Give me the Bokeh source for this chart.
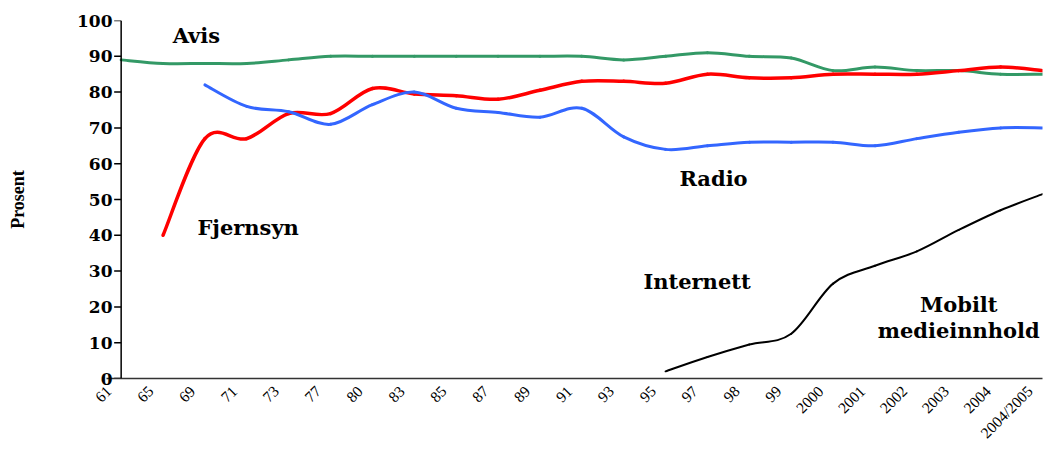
import math
from bokeh.plotting import figure
from bokeh.models import Range1d, FixedTicker, ColumnDataSource, LinearAxis, Span
from bokeh.core.properties import value
from bokeh.embed import file_html
from bokeh.resources import INLINE

# ---- data ----
labels = ["61", "65", "69", "71", "73", "77", "80", "83", "85", "87", "89", "91",
          "93", "95", "97", "98", "99", "2000", "2001", "2002", "2003", "2004", "2004/2005"]

avis = [89, 88, 88, 88, 89, 90, 90, 90, 90, 90, 90, 90,
        89, 90, 91, 90, 89.5, 86, 87, 86, 86, 85, 85]

fjernsyn = [None, 40, 67, 67, 74, 74, 81, 79.5, 79, 78, 80.5, 83,
            83, 82.5, 85, 84, 84, 85, 85, 85, 86, 87, 86]

radio = [None, None, 82, 76, 74.5, 71, 76.5, 80, 75.5, 74.3, 73, 75.5,
         67.5, 64, 65, 66, 66, 66, 65, 67, 68.8, 70, 70]

internett = [None, None, None, None, None, None, None, None, None, None, None, None,
             None, 2, 6, 9.5, 12.5, 26.5, 31.5, 35.5, 41.5, 47, 51.5]

series_names = ["Avis", "Fjernsyn", "Radio", "Internett"]
y_ticks = list(range(0, 101, 10))


def smooth_segments(ys):
    """Bezier segments (smoothed line, as in the source chart) through the data points."""
    pts = [(i, y) for i, y in enumerate(ys) if y is not None]
    d = dict(x0=[], y0=[], x1=[], y1=[], cx0=[], cy0=[], cx1=[], cy1=[])
    n = len(pts)
    for k in range(n - 1):
        p0 = pts[k - 1] if k > 0 else pts[k]
        p1 = pts[k]
        p2 = pts[k + 1]
        p3 = pts[k + 2] if k + 2 < n else pts[k + 1]
        d["x0"].append(p1[0]); d["y0"].append(p1[1])
        d["x1"].append(p2[0]); d["y1"].append(p2[1])
        d["cx0"].append(p1[0] + (p2[0] - p0[0]) / 6.0)
        d["cy0"].append(p1[1] + (p2[1] - p0[1]) / 6.0)
        d["cx1"].append(p2[0] - (p3[0] - p1[0]) / 6.0)
        d["cy1"].append(p2[1] - (p3[1] - p1[1]) / 6.0)
    return ColumnDataSource(d)


W, H = 1045, 450
BL, BR, BT = 106, 3, 20
LAB_SHIFT = 0.3    # rotated category labels end a little left of their category
X_START = -0.35
n = len(labels)
px_per_unit = (W - BL - BR) / (n - 1 - X_START)
tick_len = 7 / px_per_unit

p = figure(width=W, height=H,
           x_range=Range1d(X_START, n - 1), y_range=Range1d(0, 100),
           output_backend="svg", toolbar_location=None,
           min_border_left=BL, min_border_right=BR, min_border_top=BT, min_border_bottom=60)
p.outline_line_color = None
p.grid.visible = False
p.background_fill_color = "white"
p.border_fill_color = "white"
p.xaxis.visible = False

# value axis: line at the first category, tick marks to its left
p.add_layout(Span(location=0, dimension="height", line_color="black", line_width=1.5))
p.segment(x0=[-tick_len] * len(y_ticks), x1=[0] * len(y_ticks), y0=y_ticks, y1=y_ticks,
          line_color="black", line_width=1.5)

styles = [("#339966", 3.0), ("#FF0000", 3.5), ("#3366FF", 3.0), ("#000000", 2.0)]
for ys, (col, w) in zip([avis, fjernsyn, radio, internett], styles):
    src = smooth_segments(ys)
    p.bezier(x0="x0", y0="y0", x1="x1", y1="y1", cx0="cx0", cy0="cy0",
             cx1="cx1", cy1="cy1", source=src, line_color=col, line_width=w,
             line_cap="round")

ya = p.yaxis[0]
ya.ticker = FixedTicker(ticks=y_ticks)
ya.major_label_text_font = "DejaVu Serif"
ya.major_label_text_font_style = "bold"
ya.major_label_text_font_size = "17px"
ya.major_label_text_color = "black"
ya.major_tick_out = 0
ya.major_tick_in = 0
ya.major_tick_line_color = None
ya.major_label_standoff = -6
ya.minor_tick_line_color = None
ya.axis_line_color = None
ya.axis_label = "Prosent"
ya.axis_label_text_font = "Liberation Serif"
ya.axis_label_text_font_style = "bold"
ya.axis_label_text_font_size = "18px"
ya.axis_label_text_color = "black"
ya.axis_label_standoff = 46

# category axis (labels slightly shifted like the source)
p.extra_x_ranges = {"lab": Range1d(X_START + LAB_SHIFT, n - 1 + LAB_SHIFT)}
xa = LinearAxis(x_range_name="lab")
xa.ticker = FixedTicker(ticks=list(range(n)))
xa.major_label_overrides = {i: lab for i, lab in enumerate(labels)}
xa.major_label_orientation = math.pi / 4
xa.major_tick_line_color = None
xa.major_tick_out = 0
xa.major_tick_in = 0
xa.minor_tick_line_color = None
xa.major_label_text_font = "Liberation Serif"
xa.major_label_text_font_size = "15.5px"
xa.major_label_text_color = "black"
xa.major_label_standoff = 10
xa.axis_line_color = "#333333"
xa.axis_line_width = 1.5
p.add_layout(xa, "below")

# series name labels
font = value("DejaVu Serif")
p.text(x=[1.23, 1.82, 13.33, 12.47], y=[95.8, 42.1, 56.0, 27.0], text=series_names,
       text_font=font, text_font_style="bold", text_font_size="21px",
       text_color="black", text_align="left", text_baseline="alphabetic")
p.text(x=[20.0, 20.0], y=[20.6, 13.4], text=["Mobilt", "medieinnhold"],
       text_font=font, text_font_style="bold", text_font_size="21px",
       text_color="black", text_align="center", text_baseline="alphabetic")

open("out.html", "w").write(file_html(p, INLINE))
